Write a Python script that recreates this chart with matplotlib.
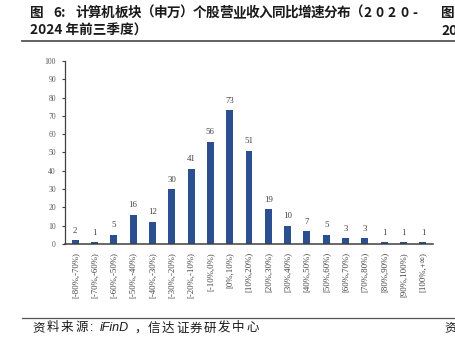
import matplotlib
matplotlib.use("Agg")
import matplotlib.pyplot as plt
from matplotlib.lines import Line2D

plt.rcParams['font.family'] = ['Noto Sans CJK SC', 'DejaVu Sans']

categories = ["[-80%,-70%)", "[-70%,-60%)", "[-60%,-50%)", "[-50%,-40%)",
              "[-40%,-30%)", "[-30%,-20%)", "[-20%,-10%)", "[-10%,0%)",
              "[0%,10%)", "[10%,20%)", "[20%,30%)", "[30%,40%)",
              "[40%,50%)", "[50%,60%)", "[60%,70%)", "[70%,80%)",
              "[80%,90%)", "[90%,100%)", "[100%,+\u221e)"]
counts = [2, 1, 5, 16, 12, 30, 41, 56, 73, 51, 19, 10, 7, 5, 3, 3, 1, 1, 1]
yticks = [0, 10, 20, 30, 40, 50, 60, 70, 80, 90, 100]

title_cn = "计算机板块（申万）个股营业收入同比增速分布（"
title_year = "2020-"
title_line2 = "2024 年前三季度）"
source_cn1 = "资料来源"
source_latin = "iFinD"
source_cn2 = "信达证券研发中心"

bar_color = "#2C4F8F"
text_color = "#1a1a1a"
serif = ['Liberation Serif', 'DejaVu Serif']
W, H = 455, 348

fig = plt.figure(figsize=(W / 100, H / 100), dpi=100)
ax = fig.add_axes([0.1429, 0.2989, 0.8087, 0.5258])

x = list(range(len(categories)))
ax.bar(x, counts, width=0.36, color=bar_color, zorder=2)
for xi, v in zip(x, counts):
    ax.annotate(str(v), (xi, v), xytext=(0, 4), textcoords='offset points',
                ha='center', va='bottom', fontsize=6.3, color='#404040',
                family=serif)

ax.set_xlim(-0.52, len(categories) - 0.48)
ax.set_ylim(0, 100)
ax.set_yticks(yticks)
ax.set_yticklabels([str(t) for t in yticks], family=serif, fontsize=5.5, color='#595959')
ax.set_xticks(x)
ax.set_xticklabels(categories, rotation=90, family=serif, fontsize=6.3, color='#404040')
ax.tick_params(axis='x', length=0, pad=6)
ax.tick_params(axis='y', length=2.5, width=0.8, color='#404040', pad=4)

for side in ['top', 'right']:
    ax.spines[side].set_visible(False)
ax.spines['left'].set_color('#404040')
ax.spines['left'].set_linewidth(0.9)
ax.spines['bottom'].set_color('#404040')
ax.spines['bottom'].set_linewidth(1.1)


def put(px, py, s, **kw):
    """Place text at pixel coordinates measured from the top-left corner."""
    kw.setdefault('ha', 'left')
    kw.setdefault('va', 'center')
    fig.text(px / W, 1 - py / H, s, **kw)


# Justified heading, first line
head = dict(fontsize=9.8, fontweight='bold', color=text_color)
put(30, 13, "图", **head)
put(53, 13, "6:", **head)
for i, ch in enumerate(title_cn):
    put(75 + i * 13.1, 13, ch, **head)
for i, ch in enumerate(title_year):
    put(363 + i * 12.4, 13, ch, **head)
put(30, 31, title_line2, **head)

# Neighbouring heading, cut at the page edge
put(441, 13, "图", **head)
put(441, 31, "20", **head)

fig.add_artist(Line2D([22 / W, 1], [1 - 40.5 / H] * 2, color='#555555',
                      linewidth=1.3, transform=fig.transFigure))
fig.add_artist(Line2D([22 / W, 1], [1 - 317.5 / H] * 2, color='#555555',
                      linewidth=0.9, transform=fig.transFigure))

# Source line
src = dict(fontsize=9, color=text_color)
for i, ch in enumerate(source_cn1):
    put(32 + i * 14.5, 328, ch, **src)
put(90, 328, ":", fontsize=9, color=text_color, family=['Liberation Sans', 'DejaVu Sans'])
put(100, 328, source_latin, fontsize=9, color=text_color, style='italic',
    family=['Liberation Sans', 'DejaVu Sans'])
put(134, 328, "，", **src)
for i, ch in enumerate(source_cn2):
    put(148 + i * 14, 328, ch, **src)
put(444, 328, "资", **src)

fig.savefig("out.png", dpi=100)
